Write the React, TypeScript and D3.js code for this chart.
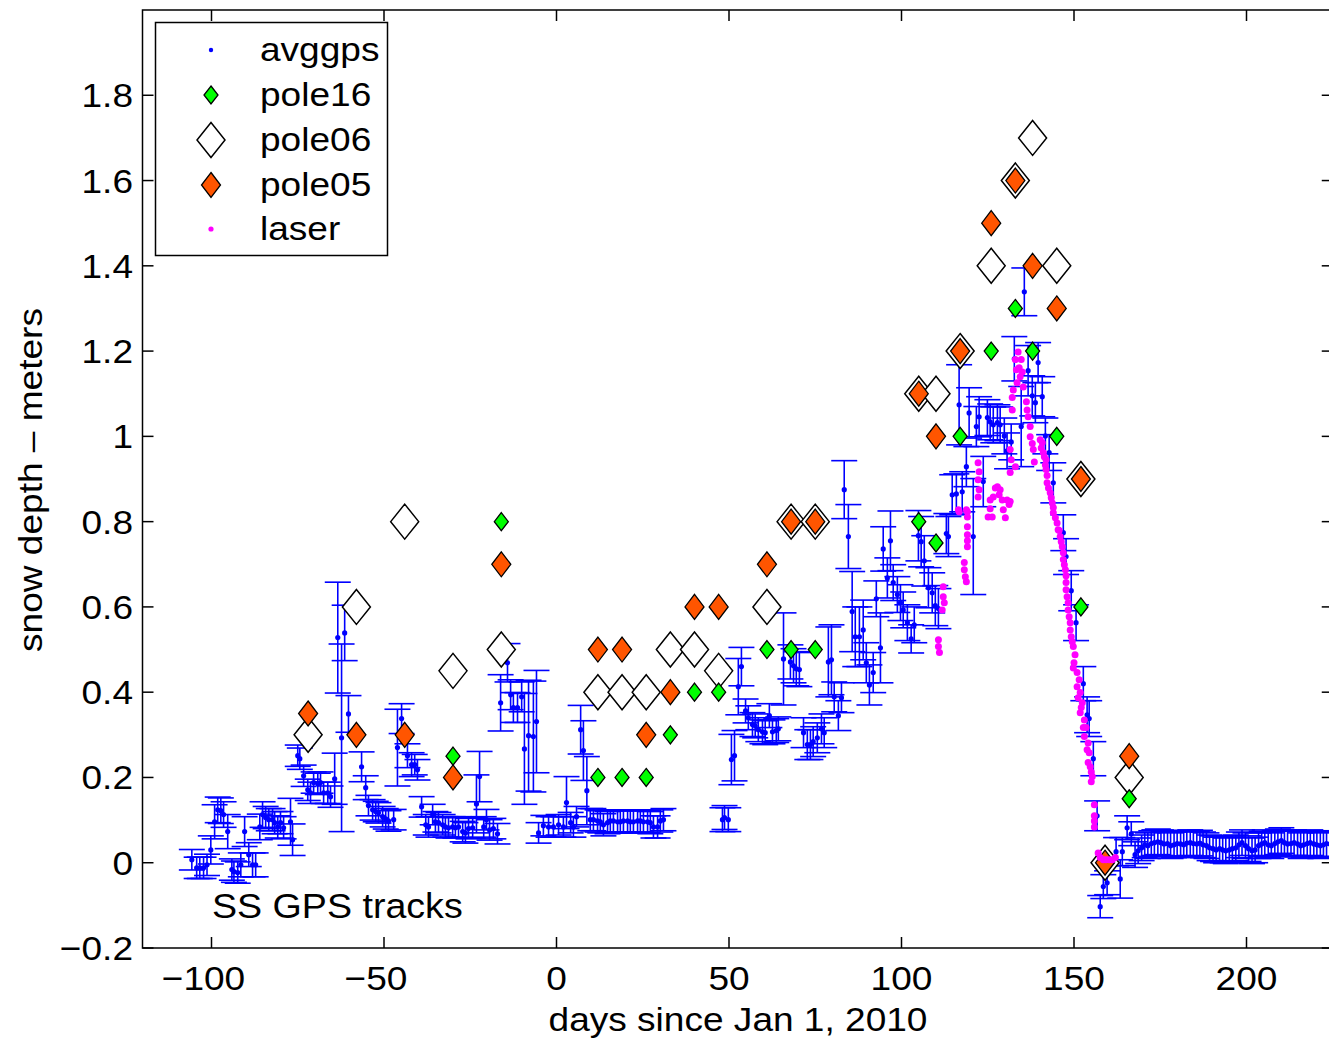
import React from "react";
import * as d3 from "d3";

const W = 1329;
const H = 1039;

// avggps: GPS-derived snow depth (days since Jan 1 2010, metres, 1-sigma error)
const gpsDay = [
  -105.7, -104.3, -103.4, -102.3, -101.3, -100.2, -99.1, -98.2, -97.3, -96.5, -95.3, -94.1, -93.5, -92.4, -91.5,
  -90.4, -89.2, -88.1, -87.2, -86.0, -85.2, -84.3, -83.4, -82.3, -81.7, -80.8, -80.0, -79.1, -77.1, -76.5,
  -75.0, -74.4, -73.3, -72.1, -71.3, -70.4, -69.2, -68.4, -67.5, -66.3, -65.5, -64.3, -63.4, -62.3, -61.4, -60.3,
  -56.5, -55.3, -54.5, -53.3, -52.4, -51.6, -50.4, -49.5, -48.7, -47.2, -46.1, -44.9, -43.2, -42.0, -41.1, -40.3,
  -39.1, -37.9, -37.1, -35.9, -35.1, -34.2, -33.0, -32.2, -31.3, -30.1, -29.3, -28.4, -27.2, -26.4, -25.5, -24.3,
  -23.2, -22.3, -21.1, -20.3, -19.4, -18.3, -17.1, -16.2, -14.2, -13.3, -12.5, -11.3, -10.1, -9.3, -8.1, -6.7, -5.8,
  -5.2, -3.8, -2.3, -0.9, 0.6, 2.0, 2.9, 4.1, 4.9, 5.8, 7.0, 7.8, 8.8,
  9.8, 10.7, 11.9, 12.7, 13.6, 14.8, 15.6, 16.5, 17.7, 18.5, 19.4, 20.6, 21.4, 22.3, 23.5, 24.3, 25.2, 26.4, 27.2,
  28.1, 29.3, 30.1, 31.0,
  48.1, 48.7, 49.8, 50.7, 51.6, 52.7, 53.6, 54.8, 55.6, 56.8, 57.6, 58.5, 59.7, 60.5, 61.7, 62.6, 63.7, 64.3, 65.8,
  67.8, 68.7, 69.5, 70.4, 71.6, 72.7, 73.6, 74.4, 75.6, 76.8, 77.6, 78.8, 79.7, 80.5, 81.7, 82.6, 83.4, 84.6, 85.7,
  86.6, 87.8, 88.9, 89.8, 90.7, 91.8, 92.7, 93.9, 94.7, 95.9, 96.8, 97.6, 98.8, 99.7, 100.5, 101.7, 102.8, 103.7,
  104.9, 105.7, 106.6, 107.8, 108.9, 109.8, 110.7, 113.0, 113.6, 114.7, 115.9, 116.7, 117.6, 118.8, 119.6, 120.8,
  121.7, 122.5, 123.7, 124.9, 125.7, 126.6, 127.8, 128.6, 129.8, 130.6, 131.8, 132.7, 134.7, 135.6, 136.7, 137.9,
  138.8, 139.6, 140.8, 141.7, 142.8, 144.0, 146.9, 147.7, 149.2, 150.6, 152.7, 153.8, 154.4, 155.6, 156.7, 157.6,
  158.5, 159.6, 162.2, 163.4, 164.0, 165.4, 166.6,
  167.7, 168.6, 169.6, 170.5, 171.4, 172.4, 173.3, 174.3, 175.2, 176.1, 177.1, 178.0, 179.0, 179.9, 180.9, 181.8,
  182.7, 183.7, 184.6, 185.6, 186.5, 187.4, 188.4, 189.3, 190.3, 191.2, 192.2, 193.1, 194.0, 195.0, 195.9, 196.9,
  197.8, 198.7, 199.7, 200.6, 201.6, 202.5, 203.5, 204.4, 205.3, 206.3, 207.2, 208.2, 209.1, 210.1, 211.0, 211.9,
  212.9, 213.8, 214.8, 215.7, 216.6, 217.6, 218.5, 219.5, 220.4, 221.4, 222.3, 223.2, 224.2,
];
const gpsDepth = [
  0.007, -0.012, -0.012, -0.012, -0.005, 0.03, 0.096, 0.124, 0.122, 0.113, 0.073, -0.016, -0.021, -0.023, -0.005,
  0.073, 0.019, -0.005, -0.005, 0.084, 0.113, 0.106, 0.101, 0.101, 0.094, 0.084, 0.094, 0.082, 0.096, 0.054,
  0.251, 0.244, 0.204, 0.171, 0.164, 0.188, 0.185, 0.188, 0.164, 0.164, 0.155, 0.197, 0.528, 0.293, 0.539, 0.349,
  0.225, 0.176, 0.134, 0.124, 0.12, 0.117, 0.108, 0.103, 0.098, 0.101, 0.27, 0.338, 0.251, 0.23, 0.23, 0.218,
  0.131, 0.089, 0.084, 0.113, 0.096, 0.094, 0.089, 0.084, 0.082, 0.084, 0.082, 0.084, 0.073, 0.07, 0.08, 0.082,
  0.138, 0.202, 0.084, 0.101, 0.077, 0.08, 0.068, 0.375, 0.469, 0.394, 0.364, 0.364, 0.389, 0.267, 0.298, 0.296, 0.331,
  0.07, 0.087, 0.084, 0.084, 0.089, 0.084, 0.141, 0.094, 0.084, 0.108, 0.312, 0.263, 0.169,
  0.101, 0.101, 0.098, 0.096, 0.089, 0.094, 0.098, 0.098, 0.096, 0.096, 0.098, 0.098, 0.096, 0.096, 0.098, 0.098,
  0.096, 0.096, 0.094, 0.084, 0.084, 0.098, 0.101,
  0.101, 0.106, 0.101, 0.242, 0.251, 0.413, 0.46, 0.356, 0.34, 0.324, 0.321, 0.312, 0.307, 0.305, 0.345, 0.307,
  0.31, 0.314, 0.478, 0.471, 0.462, 0.455, 0.453, 0.305, 0.277, 0.277, 0.284, 0.293, 0.314, 0.305, 0.471, 0.476,
  0.389, 0.345, 0.387, 0.875, 0.765, 0.589, 0.53, 0.53, 0.546, 0.469, 0.417, 0.446, 0.619, 0.504, 0.736, 0.668,
  0.755, 0.657, 0.629, 0.61, 0.593, 0.563, 0.525, 0.558, 0.767, 0.753, 0.708, 0.645, 0.633, 0.603, 0.596, 0.772,
  0.765, 0.863, 0.865, 1.074, 0.87, 0.929, 1.055, 0.765, 1.023, 1.046, 0.894, 1.044, 1.034, 1.027, 1.032, 1.027,
  1.001, 0.966, 0.987, 1.182, 1.023, 1.339, 1.154, 1.095, 1.079, 1.173, 1.093, 1.001, 0.962, 0.891, 0.774, 0.718,
  0.638, 0.563, 0.42, 0.347, 0.338, 0.244, 0.11, -0.103, -0.056, -0.047, 0.026, -0.038, 0.026, 0.082, 0.068,
  0.019, 0.028, 0.035, 0.042, 0.04, 0.045, 0.047, 0.049, 0.047, 0.044, 0.045, 0.04, 0.042, 0.045, 0.044, 0.042,
  0.046, 0.047, 0.045, 0.044, 0.046, 0.042, 0.04, 0.035, 0.033, 0.03, 0.033, 0.03, 0.028, 0.03, 0.033, 0.035,
  0.042, 0.047, 0.04, 0.033, 0.028, 0.03, 0.04, 0.044, 0.047, 0.042, 0.04, 0.045, 0.049, 0.052, 0.047, 0.044,
  0.045, 0.047, 0.044, 0.04, 0.042, 0.045, 0.047, 0.044, 0.042, 0.04, 0.042, 0.045, 0.044,
];
const gpsErr = [
  0.024, 0.025, 0.025, 0.025, 0.025, 0.033, 0.04, 0.03, 0.03, 0.03, 0.04, 0.025, 0.025, 0.025, 0.028,
  0.035, 0.028, 0.028, 0.028, 0.03, 0.03, 0.026, 0.026, 0.026, 0.026, 0.026, 0.026, 0.026, 0.055, 0.037,
  0.025, 0.025, 0.025, 0.025, 0.025, 0.025, 0.025, 0.025, 0.025, 0.025, 0.025, 0.06, 0.13, 0.22, 0.065, 0.043,
  0.035, 0.028, 0.024, 0.024, 0.024, 0.024, 0.024, 0.024, 0.024, 0.024, 0.09, 0.035, 0.028, 0.028, 0.024, 0.024,
  0.024, 0.024, 0.024, 0.024, 0.024, 0.024, 0.024, 0.024, 0.024, 0.024, 0.024, 0.024, 0.024, 0.024, 0.024, 0.024,
  0.068, 0.059, 0.024, 0.024, 0.024, 0.024, 0.024, 0.066, 0.045, 0.035, 0.035, 0.035, 0.035, 0.13, 0.13, 0.13, 0.12,
  0.024, 0.024, 0.024, 0.024, 0.024, 0.024, 0.061, 0.024, 0.024, 0.024, 0.057, 0.07, 0.08,
  0.026, 0.026, 0.026, 0.026, 0.026, 0.026, 0.026, 0.026, 0.026, 0.026, 0.026, 0.026, 0.026, 0.026, 0.026, 0.026,
  0.026, 0.026, 0.026, 0.026, 0.026, 0.026, 0.026,
  0.028, 0.028, 0.028, 0.059, 0.059, 0.066, 0.045, 0.028, 0.028, 0.028, 0.028, 0.028, 0.028, 0.028, 0.028, 0.028,
  0.028, 0.028, 0.108, 0.04, 0.04, 0.04, 0.04, 0.035, 0.035, 0.035, 0.035, 0.035, 0.035, 0.035, 0.082, 0.082,
  0.035, 0.035, 0.035, 0.068, 0.075, 0.094, 0.07, 0.07, 0.07, 0.047, 0.047, 0.047, 0.042, 0.082, 0.052, 0.047,
  0.07, 0.042, 0.042, 0.042, 0.042, 0.042, 0.033, 0.042, 0.059, 0.059, 0.059, 0.047, 0.047, 0.047, 0.047, 0.047,
  0.047, 0.047, 0.047, 0.094, 0.047, 0.047, 0.059, 0.136, 0.047, 0.047, 0.059, 0.042, 0.042, 0.042, 0.042, 0.042,
  0.042, 0.042, 0.042, 0.052, 0.094, 0.056, 0.059, 0.047, 0.047, 0.047, 0.047, 0.042, 0.042, 0.047, 0.042, 0.042,
  0.047, 0.042, 0.04, 0.042, 0.042, 0.04, 0.035, 0.026, 0.028, 0.028, 0.033, 0.045, 0.033, 0.028, 0.028,
  0.03, 0.03, 0.03, 0.03, 0.03, 0.03, 0.03, 0.03, 0.03, 0.03, 0.03, 0.03, 0.03, 0.03, 0.03, 0.03,
  0.03, 0.03, 0.03, 0.03, 0.03, 0.03, 0.03, 0.03, 0.03, 0.03, 0.03, 0.03, 0.03, 0.03, 0.03, 0.03,
  0.03, 0.03, 0.03, 0.03, 0.03, 0.03, 0.03, 0.03, 0.03, 0.03, 0.03, 0.03, 0.03, 0.03, 0.03, 0.03,
  0.03, 0.03, 0.03, 0.03, 0.03, 0.03, 0.03, 0.03, 0.03, 0.03, 0.03, 0.03, 0.03,
];

// laser ranger snow depth
const laserDay = [
  110.7, 110.7, 111.0, 111.8, 112.1, 112.1, 112.4,
  116.5, 116.7, 118.8, 119.1, 119.1, 119.1, 119.1, 119.1, 119.1, 118.2, 118.2, 118.5, 118.8,
  122.2, 122.5, 122.2, 122.5, 122.2,
  125.1, 125.7, 125.7, 126.3, 126.6, 127.2, 127.8, 128.3, 128.6, 129.2, 129.5, 130.1, 130.6, 131.2, 131.5,
  131.5, 131.8, 131.5, 132.1, 132.1, 132.4, 133.0, 133.3, 133.5, 133.8, 134.1, 134.4, 134.7, 135.3, 135.0, 133.0,
  136.2, 136.4, 136.7, 137.3, 137.3, 137.9, 138.2, 138.5,
  140.2, 140.5, 140.8, 141.1, 141.4, 141.7, 141.9, 141.9, 142.2, 142.2, 142.6, 143.1, 143.4, 143.7, 144.0, 144.0,
  144.6, 145.1, 145.4, 145.7, 146.0, 146.3, 146.6, 146.9, 146.9, 147.2, 147.5, 147.7, 147.7, 147.7, 148.0, 148.3,
  148.3, 148.6, 148.9, 148.9, 149.2, 149.5, 149.8, 150.0, 149.8, 150.3, 150.9, 150.9, 151.2, 151.5, 151.8, 152.1,
  151.8, 152.4, 152.7, 153.0, 153.0, 153.5, 153.8, 154.1, 154.1, 154.4, 154.7, 155.0, 155.3, 155.0,
  155.9, 155.9, 155.9, 155.9, 157.0, 157.6, 158.5, 159.3, 160.2, 161.1, 162.0,
];
const laserDepth = [
  0.523, 0.507, 0.493, 0.593, 0.624, 0.647, 0.61,
  0.828, 0.823, 0.828, 0.823, 0.811, 0.788, 0.769, 0.755, 0.741, 0.704, 0.687, 0.671, 0.659,
  0.938, 0.917, 0.898, 0.875, 0.858,
  0.811, 0.83, 0.851, 0.811, 0.858, 0.879, 0.882, 0.863, 0.875, 0.851, 0.828, 0.809, 0.851, 0.84, 0.847,
  0.969, 0.945, 0.915, 1.091, 1.062, 1.109, 1.18, 1.156, 1.126, 1.198, 1.161, 1.14, 1.18, 1.116, 1.151, 0.929,
  1.081, 1.062, 1.046, 1.023, 0.999, 0.983, 0.969, 0.94,
  0.992, 0.973, 0.985, 0.962, 0.952, 0.933, 0.945, 0.922, 0.891, 0.908, 0.879, 0.868, 0.856, 0.844, 0.833, 0.821,
  0.809, 0.797, 0.781, 0.779, 0.765, 0.753, 0.741, 0.727, 0.711, 0.699, 0.687, 0.673, 0.657, 0.64, 0.624, 0.61,
  0.593, 0.577, 0.563, 0.546, 0.53, 0.518, 0.507, 0.469, 0.457, 0.488, 0.446, 0.413, 0.387, 0.429, 0.399, 0.364,
  0.352, 0.375, 0.317, 0.335, 0.296, 0.317, 0.265, 0.281, 0.235, 0.258, 0.225, 0.213, 0.202, 0.19,
  0.136, 0.11, 0.098, 0.084, 0.023, 0.012, 0.007, 0.007, 0.007, 0.007, 0.012,
];

// manual snow-pole readings
const poleDay = [-72, -58, -44, -30, -16, 12, 19, 26, 33, 40, 47, 61, 68, 75, 105, 110, 117, 126, 133, 138, 145, 152, 159, 166];
const pole06 = [0.3, 0.6, 0.8, 0.45, 0.5, 0.4, 0.4, 0.4, 0.5, 0.5, 0.45, 0.6, 0.8, 0.8, 1.1, 1.1, 1.2, 1.4, 1.6, 1.7, 1.4, 0.9, 0.0, 0.2];
const pole05 = [0.35, 0.3, 0.3, 0.2, 0.7, 0.5, 0.5, 0.3, 0.4, 0.6, 0.6, 0.7, 0.8, 0.8, 1.1, 1.0, 1.2, 1.5, 1.6, 1.4, 1.3, 0.9, 0.0, 0.25];
const pole16Day = [-30, -16, 12, 19, 26, 33, 40, 47, 61, 68, 75, 105, 110, 117, 126, 133, 138, 145, 152, 166];
const pole16 = [0.25, 0.8, 0.2, 0.2, 0.2, 0.3, 0.4, 0.4, 0.5, 0.5, 0.5, 0.8, 0.75, 1.0, 1.2, 1.3, 1.2, 1.0, 0.6, 0.15];

const xTicks = [-100, -50, 0, 50, 100, 150, 200];
const yTicks = [-0.2, 0, 0.2, 0.4, 0.6, 0.8, 1, 1.2, 1.4, 1.6, 1.8];

const FONT = '"Liberation Sans", Arial, Helvetica, sans-serif';
const SX = 1.09;
const BLUE = "#0000ff";
const GREEN = "#00ff00";
const ORANGE = "#ff5500";
const MAGENTA = "#ff00ff";

const x = d3.scaleLinear().domain([-120, 225]).range([142.5, 1332.75]);
const y = d3.scaleLinear().domain([-0.2, 2.0]).range([948, 10]);
const fmt = d3.format("~g");

const diamond = (cx: number, cy: number, hw: number, hh: number) =>
  `M${cx},${cy - hh}L${cx + hw},${cy}L${cx},${cy + hh}L${cx - hw},${cy}Z`;

const D06 = [14, 17.5];
const D05 = [9.5, 12.5];
const D16 = [7, 9];
const CAP = 13;

function Txt({ x: tx, y: ty, size = 34, anchor = "start", rotate = 0, children }: any) {
  return (
    <g transform={`translate(${tx},${ty}) rotate(${rotate}) scale(${SX},1)`}>
      <text fontFamily={FONT} fontSize={size} textAnchor={anchor} fill="#000">
        {children}
      </text>
    </g>
  );
}

export default function App() {
  const left = x.range()[0];
  const right = x.range()[1];
  const top = y.range()[1];
  const bottom = y.range()[0];

  const legendRows = [
    { label: "avggps", kind: "gps" },
    { label: "pole16", kind: "p16" },
    { label: "pole06", kind: "p06" },
    { label: "pole05", kind: "p05" },
    { label: "laser", kind: "laser" },
  ];
  const rowY = [50, 95, 140, 185, 229];
  const mx = 211;

  return (
    <svg width={W} height={H} style={{ position: "absolute", left: 0, top: 0, background: "#fff" }}>
      <rect x={0} y={0} width={W} height={H} fill="#fff" />

      {/* GPS error bars */}
      <g stroke={BLUE} strokeWidth={1.6}>
        {gpsDay.map((d, i) => {
          const cx = x(d);
          const y0 = y(gpsDepth[i] - gpsErr[i]);
          const y1 = y(gpsDepth[i] + gpsErr[i]);
          return (
            <g key={i}>
              <line x1={cx} x2={cx} y1={y0} y2={y1} />
              <line x1={cx - CAP} x2={cx + CAP} y1={y0} y2={y0} />
              <line x1={cx - CAP} x2={cx + CAP} y1={y1} y2={y1} />
            </g>
          );
        })}
      </g>
      <g fill={BLUE}>
        {gpsDay.map((d, i) => (
          <circle key={i} cx={x(d)} cy={y(gpsDepth[i])} r={2.6} />
        ))}
      </g>

      {/* pole readings */}
      <g fill="#fff" stroke="#000" strokeWidth={1.5}>
        {poleDay.map((d, i) => (
          <path key={i} d={diamond(x(d), y(pole06[i]), D06[0], D06[1])} />
        ))}
      </g>
      <g fill={GREEN} stroke="#000" strokeWidth={1.3}>
        {pole16Day.map((d, i) => (
          <path key={i} d={diamond(x(d), y(pole16[i]), D16[0], D16[1])} />
        ))}
      </g>
      <g fill={ORANGE} stroke="#000" strokeWidth={1.3}>
        {poleDay.map((d, i) => (
          <path key={i} d={diamond(x(d), y(pole05[i]), D05[0], D05[1])} />
        ))}
      </g>

      {/* laser */}
      <g fill={MAGENTA}>
        {laserDay.map((d, i) => (
          <circle key={i} cx={x(d)} cy={y(laserDepth[i])} r={3.5} />
        ))}
      </g>

      {/* axes frame and ticks */}
      <g stroke="#000" strokeWidth={1.5} fill="none">
        <rect x={left} y={top} width={right - left} height={bottom - top} />
        {xTicks.map((t) => (
          <g key={t}>
            <line x1={x(t)} x2={x(t)} y1={bottom} y2={bottom - 11} />
            <line x1={x(t)} x2={x(t)} y1={top} y2={top + 11} />
          </g>
        ))}
        {yTicks.map((t) => (
          <g key={t}>
            <line x1={left} x2={left + 11} y1={y(t)} y2={y(t)} />
            <line x1={right} x2={right - 11} y1={y(t)} y2={y(t)} />
          </g>
        ))}
      </g>

      {xTicks.map((t) => (
        <Txt key={t} x={x(t) - (t < 0 ? 8 : 0)} y={990} anchor="middle">
          {fmt(t)}
        </Txt>
      ))}
      {yTicks.map((t) => (
        <Txt key={t} x={133} y={y(t) + 12} anchor="end">
          {fmt(t)}
        </Txt>
      ))}

      <Txt x={738} y={1031} anchor="middle">
        days since Jan 1, 2010
      </Txt>
      <Txt x={42} y={480} anchor="middle" rotate={-90}>
        snow depth – meters
      </Txt>
      <Txt x={212} y={918} size={34.5}>
        SS GPS tracks
      </Txt>

      {/* legend */}
      <rect x={155.5} y={22.5} width={232} height={233} fill="#fff" stroke="#000" strokeWidth={1.5} />
      {legendRows.map((r, i) => {
        const cy = rowY[i];
        let mark: any = null;
        if (r.kind === "gps") mark = <circle cx={mx} cy={cy} r={2.2} fill={BLUE} />;
        if (r.kind === "laser") mark = <circle cx={mx} cy={cy} r={2.6} fill={MAGENTA} />;
        if (r.kind === "p16")
          mark = <path d={diamond(mx, cy, D16[0], D16[1])} fill={GREEN} stroke="#000" strokeWidth={1.3} />;
        if (r.kind === "p06")
          mark = <path d={diamond(mx, cy, D06[0], D06[1])} fill="#fff" stroke="#000" strokeWidth={1.5} />;
        if (r.kind === "p05")
          mark = <path d={diamond(mx, cy, D05[0], D05[1])} fill={ORANGE} stroke="#000" strokeWidth={1.3} />;
        return (
          <g key={r.label}>
            {mark}
            <Txt x={260} y={cy + 11}>
              {r.label}
            </Txt>
          </g>
        );
      })}
    </svg>
  );
}
